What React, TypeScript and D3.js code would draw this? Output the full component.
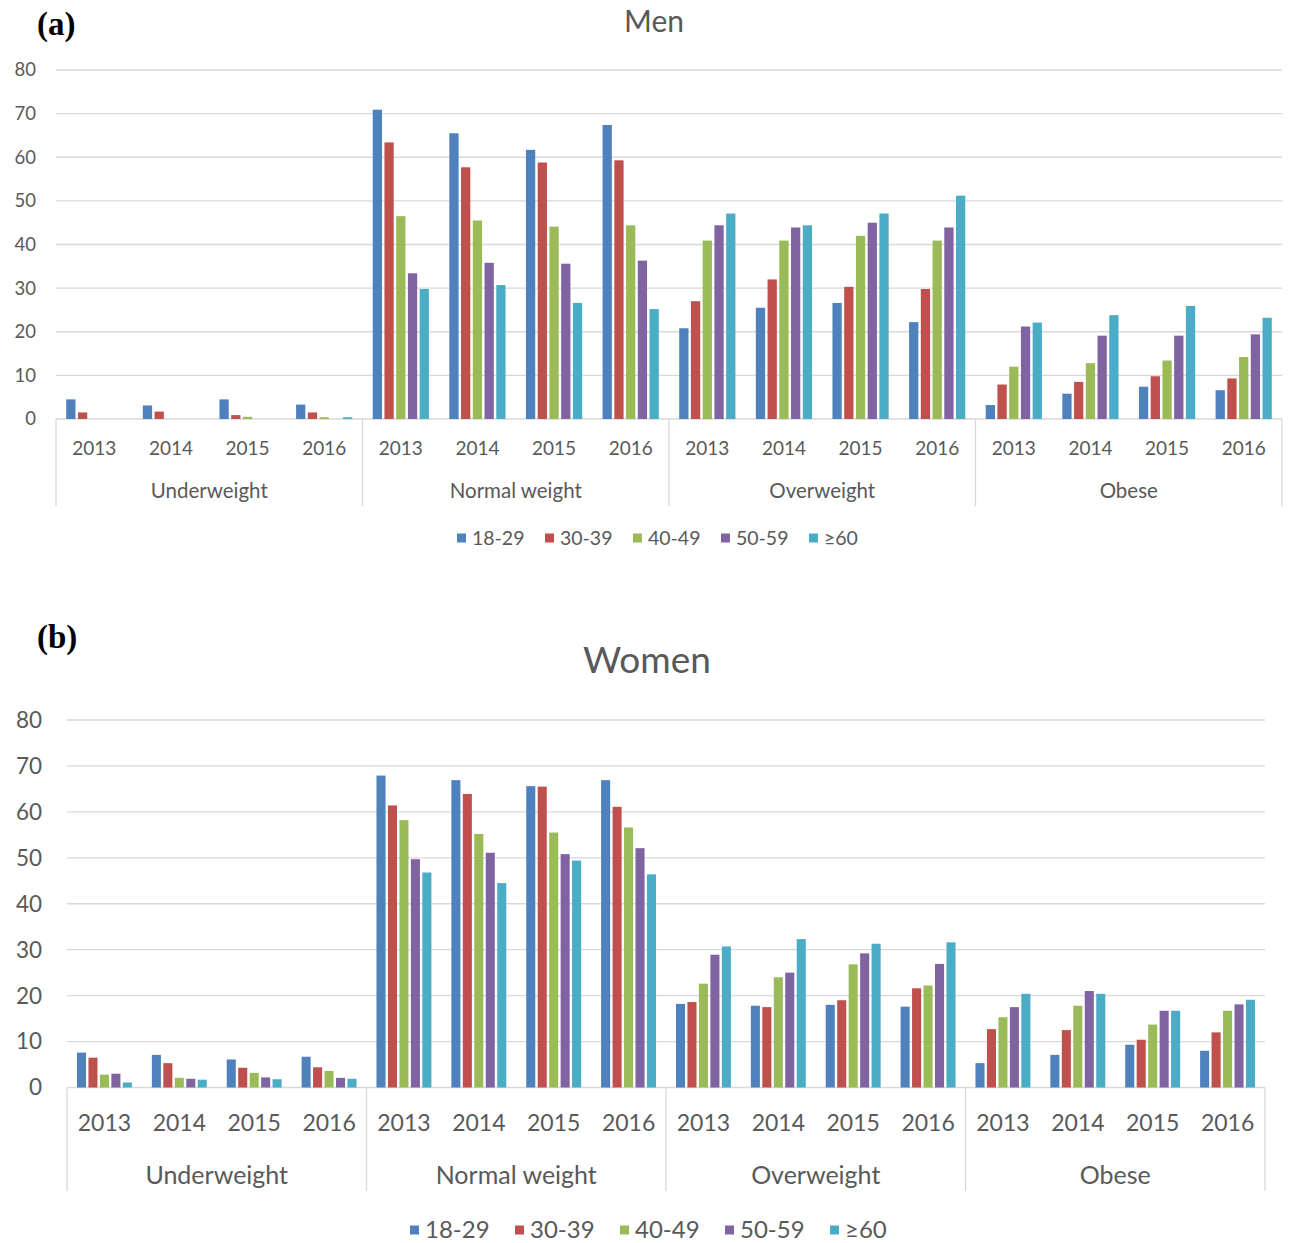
import React from 'react';
import * as d3 from 'd3';

// categories and tick labels
const categories = ['Underweight', 'Normal weight', 'Overweight', 'Obese'];
const years = ['2013', '2014', '2015', '2016'];
const ageGroups = ['18-29', '30-39', '40-49', '50-59', '≥60'];
const yTicks = [0, 10, 20, 30, 40, 50, 60, 70, 80];
const colors = ['#4F81BD', '#C0504D', '#9BBB59', '#8064A2', '#4BACC6'];

// Men (%), order: category x year
const men18_29 = [4.5, 3.1, 4.5, 3.3, 70.9, 65.5, 61.7, 67.4, 20.8, 25.5, 26.6, 22.2, 3.2, 5.8, 7.4, 6.6];
const men30_39 = [1.5, 1.7, 0.9, 1.5, 63.4, 57.7, 58.8, 59.3, 27.0, 32.0, 30.3, 29.8, 7.9, 8.5, 9.8, 9.3];
const men40_49 = [0, 0, 0.5, 0.4, 46.5, 45.5, 44.1, 44.4, 40.9, 40.9, 42.0, 40.9, 12.0, 12.8, 13.4, 14.2];
const men50_59 = [0, 0, 0, 0, 33.4, 35.8, 35.6, 36.3, 44.4, 43.9, 45.0, 43.9, 21.2, 19.1, 19.1, 19.4];
const men60 = [0, 0, 0, 0.4, 29.8, 30.7, 26.6, 25.2, 47.1, 44.4, 47.1, 51.2, 22.1, 23.8, 25.9, 23.2];

// Women (%)
const women18_29 = [7.6, 7.1, 6.1, 6.7, 67.9, 66.9, 65.6, 66.9, 18.2, 17.8, 18.0, 17.6, 5.3, 7.1, 9.3, 8.0];
const women30_39 = [6.5, 5.3, 4.3, 4.4, 61.4, 63.9, 65.5, 61.1, 18.6, 17.5, 19.0, 21.6, 12.7, 12.5, 10.4, 12.0];
const women40_49 = [2.8, 2.1, 3.2, 3.6, 58.2, 55.2, 55.5, 56.6, 22.6, 24.0, 26.8, 22.2, 15.3, 17.8, 13.7, 16.7];
const women50_59 = [3.0, 1.9, 2.2, 2.1, 49.7, 51.1, 50.8, 52.1, 28.9, 25.0, 29.2, 26.9, 17.5, 21.0, 16.7, 18.1];
const women60 = [1.1, 1.7, 1.8, 1.9, 46.8, 44.5, 49.4, 46.4, 30.7, 32.3, 31.3, 31.6, 20.4, 20.4, 16.7, 19.1];

const FONT = 'Lato, "Open Sans", sans-serif';
const GRID = '#D9D9D9';
const TEXT = '#595959';

interface PanelProps {
    series: number[][];
    tag: string;
    tagY: number;
    title: string;
    titleX: number;
    titleY: number;
    titleSize: number;
    left: number;
    right: number;
    top: number; // y of 80
    zero: number; // y of 0
    divBottom: number;
    tickRight: number;
    yearY: number;
    groupY: number;
    legendY: number;
    legendX: number;
    legendStep: number;
    tickSize: number;
    yearSize: number;
    groupSize: number;
    legendSize: number;
}

function Panel(p: PanelProps) {
    const slots = categories.flatMap(c => years.map(y => `${c}|${y}`));
    const x0 = d3.scaleBand().domain(slots).range([p.left, p.right]).padding(0);
    const x1 = d3.scaleBand().domain(ageGroups).range([0, x0.bandwidth()])
        .paddingInner(0.21).paddingOuter(0.87);
    const xg = d3.scaleBand().domain(categories).range([p.left, p.right]).padding(0);
    const y = d3.scaleLinear().domain([0, 80]).range([p.zero, p.top]);

    return (
        <g>
            <text x={37} y={p.tagY} fontFamily='"Liberation Serif", serif' fontWeight="bold" fontSize={33} fill="#000">{p.tag}</text>
            <text x={p.titleX} y={p.titleY} textAnchor="middle" fontFamily={FONT} fontSize={p.titleSize} fill={TEXT}>{p.title}</text>
            {yTicks.map(t => (
                <g key={t}>
                    <line x1={p.left} x2={p.right} y1={y(t)} y2={y(t)} stroke={GRID} strokeWidth={1.3} />
                    <text x={p.tickRight} y={y(t)} dy="0.35em" textAnchor="end" fontFamily={FONT} fontSize={p.tickSize} fill={TEXT}>{t}</text>
                </g>
            ))}
            {categories.map(c => (
                <line key={c} x1={xg(c)!} x2={xg(c)!} y1={p.zero} y2={p.divBottom} stroke={GRID} strokeWidth={1.3} />
            ))}
            <line x1={p.right} x2={p.right} y1={p.zero} y2={p.divBottom} stroke={GRID} strokeWidth={1.3} />
            {slots.map((s, i) => (
                <g key={s} transform={`translate(${x0(s)},0)`}>
                    {ageGroups.map((a, k) => {
                        const v = p.series[k][i];
                        if (v <= 0) return null;
                        return <rect key={a} x={x1(a)} y={y(v)} width={x1.bandwidth()} height={y(0) - y(v)} fill={colors[k]} />;
                    })}
                    <text x={x0.bandwidth() / 2} y={p.yearY} dy="0.35em" textAnchor="middle" fontFamily={FONT} fontSize={p.yearSize} fill={TEXT}>{s.split('|')[1]}</text>
                </g>
            ))}
            {categories.map(c => (
                <text key={c} x={xg(c)! + xg.bandwidth() / 2} y={p.groupY} dy="0.35em" textAnchor="middle" fontFamily={FONT} fontSize={p.groupSize} fill={TEXT}>{c}</text>
            ))}
            {ageGroups.map((a, k) => (
                <g key={a} transform={`translate(${p.legendX + k * p.legendStep},${p.legendY})`}>
                    <rect x={0} y={-4.5} width={9} height={9} fill={colors[k]} />
                    <text x={15} y={0} dy="0.35em" fontFamily={FONT} fontSize={p.legendSize} fill={TEXT}>{a}</text>
                </g>
            ))}
        </g>
    );
}

export default function App() {
    return (
        <svg width={1290} height={1243} style={{ position: 'absolute', left: 0, top: 0, background: '#fff' }}>
            <rect width={1290} height={1243} fill="#fff" />
            <Panel
                series={[men18_29, men30_39, men40_49, men50_59, men60]}
                tag="(a)" tagY={35} title="Men" titleX={654} titleY={32} titleSize={30}
                left={56} right={1282} top={70} zero={419} divBottom={506} tickRight={36}
                yearY={448} groupY={491} legendY={538} legendX={457} legendStep={88}
                tickSize={18.5} yearSize={19} groupSize={20.5} legendSize={19.5}
            />
            <Panel
                series={[women18_29, women30_39, women40_49, women50_59, women60]}
                tag="(b)" tagY={648} title="Women" titleX={647} titleY={673} titleSize={37}
                left={67} right={1265} top={720} zero={1087.5} divBottom={1191} tickRight={42}
                yearY={1123} groupY={1175} legendY={1230} legendX={410} legendStep={105}
                tickSize={22.5} yearSize={23} groupSize={25} legendSize={24}
            />
        </svg>
    );
}
